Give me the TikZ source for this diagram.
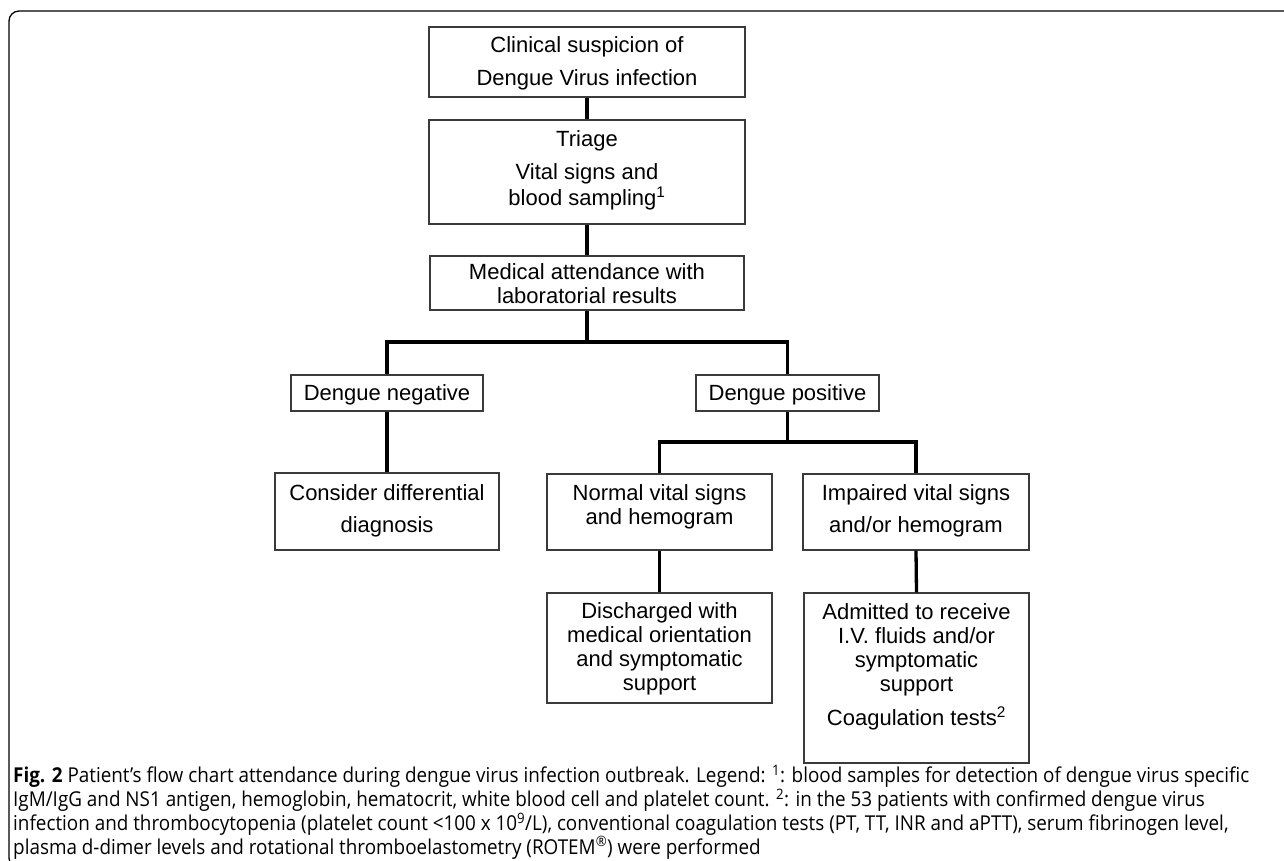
\documentclass[tikz,border=0pt]{standalone}
\usepackage{fontspec}
\setmainfont{Liberation Sans}
\newfontfamily\capfont[FakeStretch=0.92]{Open Sans}
\definecolor{boxgray}{HTML}{3A3A3A}
\begin{document}
\begin{tikzpicture}[x=1pt,y=-1pt,
  box/.style={draw=boxgray, line width=1.1pt, inner sep=0pt, fill=white},
  txt/.style={font=\fontsize{22}{24}\selectfont, align=center, inner sep=0pt},
  conn/.style={line width=3.3pt, line join=miter, black}]
\useasboundingbox (0,0) rectangle (1284,860);
\begin{scope}
\clip (0,0) rectangle (1284,860);
\draw[line width=1.3pt, rounded corners=10pt] (1300,11) -- (9,11) -- (9,868) -- (40,868);
\end{scope}
% boxes
\node[box, minimum width=316pt, minimum height=70pt] (b1) at (587,62) {};
\node[box, minimum width=316pt, minimum height=104pt] (b2) at (587,172) {};
\node[box, minimum width=314pt, minimum height=54pt] (b3) at (587,283) {};
\node[box, minimum width=192pt, minimum height=36pt] (neg) at (387,393) {};
\node[box, minimum width=183pt, minimum height=36pt] (pos) at (787.5,393) {};
\node[box, minimum width=224pt, minimum height=77pt] (cons) at (387,511.5) {};
\node[box, minimum width=225pt, minimum height=76pt] (norm) at (659.5,512) {};
\node[box, minimum width=226pt, minimum height=76pt] (imp) at (916,512) {};
\node[box, minimum width=225pt, minimum height=110pt] (dis) at (659.5,648) {};
\node[box, minimum width=225pt, minimum height=170pt] (adm) at (916.5,678) {};
% texts
\node[txt] (b1t) at (587,63) {Clinical suspicion of\\[9pt]Dengue Virus infection};
\node[txt] (b2t) at (587,170) {Triage\\[9pt]Vital signs and\\[2pt]blood sampling\textsuperscript{1}};
\node[txt] (b3t) at (587,284) {Medical attendance with\\laboratorial results};
\node[txt] (negt) at (387,395) {Dengue negative};
\node[txt] (post) at (787.5,395) {Dengue positive};
\node[txt] (const) at (387,511) {Consider differential\\[8pt]diagnosis};
\node[txt] (normt) at (659.5,507) {Normal vital signs\\and hemogram};
\node[txt] (impt) at (916,511) {Impaired vital signs\\[8pt]and/or hemogram};
\node[txt] (dist) at (659.5,649) {Discharged with\\medical orientation\\and symptomatic\\support};
\node[txt, anchor=north] (admt) at (916.5,603) {Admitted to receive\\I.V. fluids and/or\\symptomatic\\support\\[10pt]Coagulation tests\textsuperscript{2}};
% connectors
\coordinate (j1) at (587,342);
\coordinate (j2) at (787.5,442);
\draw[conn] (b1.south) -- (b2.north);
\draw[conn] (b2.south) -- (b3.north);
\draw[conn] (b3.south) -- (j1);
\draw[conn] (neg.north) |- (j1) -| (pos.north);
\draw[conn] (neg.south) -- (cons.north);
\draw[conn] (pos.south) -- (j2);
\draw[conn] (norm.north) |- (j2) -| (imp.north);
\draw[conn] (norm.south) -- (dis.north);
\draw[conn] (imp.south) -- (adm.north);
% caption
\node[anchor=north west, align=left, inner sep=0pt, font=\capfont\fontsize{20.5}{22.5}\selectfont] (cap) at (13,765)
{\textbf{Fig. 2} Patient’s flow chart attendance during dengue virus infection outbreak. Legend: \textsuperscript{1}: blood samples for detection of dengue virus specific\\
IgM/IgG and NS1 antigen, hemoglobin, hematocrit, white blood cell and platelet count. \textsuperscript{2}: in the 53 patients with confirmed dengue virus\\
infection and thrombocytopenia (platelet count <100 x 10\textsuperscript{9}/L), conventional coagulation tests (PT, TT, INR and aPTT), serum fibrinogen level,\\
plasma d-dimer levels and rotational thromboelastometry (ROTEM\textsuperscript{®}) were performed};
\end{tikzpicture}
\end{document}
